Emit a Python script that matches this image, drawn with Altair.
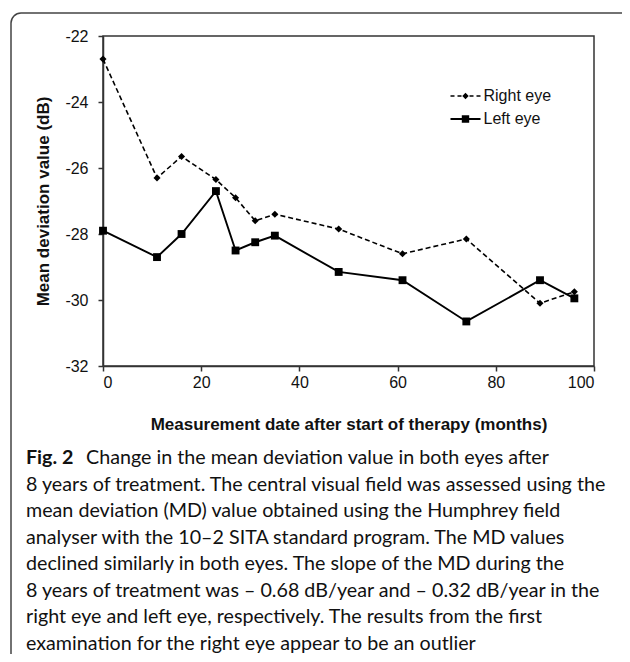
import altair as alt
import pandas as pd

# ---- data ----
months = [0, 11, 16, 23, 27, 31, 35, 48, 61, 74, 89, 96]
right_eye = [-22.7, -26.3, -25.65, -26.35, -26.9, -27.6, -27.4, -27.85, -28.6, -28.15, -30.1, -29.75]
left_eye = [-27.9, -28.7, -28.0, -26.7, -28.5, -28.25, -28.05, -29.15, -29.4, -30.65, -29.4, -29.95]
series = ["Right eye", "Left eye"]
x_ticks = [0, 20, 40, 60, 80, 100]
y_ticks = [-32, -30, -28, -26, -24, -22]
x_title = "Measurement date after start of therapy (months)"
y_title = "Mean deviation value (dB)"
caption_label = "Fig. 2"
caption_lines = [
    "Change in the mean deviation value in both eyes after",
    "8 years of treatment. The central visual field was assessed using the",
    "mean deviation (MD) value obtained using the Humphrey field",
    "analyser with the 10\u20132 SITA standard program. The MD values",
    "declined similarly in both eyes. The slope of the MD during the",
    "8 years of treatment was \u2013 0.68 dB/year and \u2013 0.32 dB/year in the",
    "right eye and left eye, respectively. The results from the first",
    "examination for the right eye appear to be an outlier",
]

df = pd.DataFrame(
    {
        "month": months * 2,
        "md": right_eye + left_eye,
        "eye": [series[0]] * len(months) + [series[1]] * len(months),
    }
)
one = pd.DataFrame({"k": [1]})

FONT = "Liberation Sans"
CAP_FONT = "Lato"
CAP_SIZE = 19.7
CAP_LH = 26.5
CAP_Y0 = 428

x_enc = alt.X(
    "month:Q",
    scale=alt.Scale(domain=[0, 100], nice=False),
    axis=alt.Axis(values=x_ticks, title=x_title, labelPadding=3, titlePadding=26),
)
y_enc = alt.Y(
    "md:Q",
    scale=alt.Scale(domain=[-32, -22], nice=False),
    axis=alt.Axis(values=y_ticks, title=y_title, labelPadding=10, titlePadding=12,
                  labelExpr="'' + datum.value"),
)

base = alt.Chart(df).encode(x=x_enc, y=y_enc)

line_r = base.transform_filter(alt.datum.eye == series[0]).mark_line(
    color="black", strokeWidth=1.6, strokeDash=[5, 3]
)
line_l = base.transform_filter(alt.datum.eye == series[1]).mark_line(
    color="black", strokeWidth=1.9
)
pts_r = base.transform_filter(alt.datum.eye == series[0]).mark_point(
    shape="diamond", filled=True, color="black", size=50, opacity=1
)
pts_l = base.transform_filter(alt.datum.eye == series[1]).mark_point(
    shape="square", filled=True, color="black", size=62, opacity=1
)

# legend glyphs: dashed line + diamond, solid line + square (filled outlines)
path_r = (
    "M-1.5,-0.075H-1.1V0.075H-1.5Z"
    "M-0.8,-0.075H-0.4V0.075H-0.8Z"
    "M0,-0.32L0.32,0L0,0.32L-0.32,0Z"
    "M0.4,-0.075H0.8V0.075H0.4Z"
    "M1.1,-0.075H1.5V0.075H1.1Z"
)
path_l = "M-1.5,-0.09H1.5V0.09H-1.5Z M-0.37,-0.37H0.37V0.37H-0.37Z"
legend_layer = base.transform_filter("false").mark_point(
    filled=True, color="black", opacity=1
).encode(
    shape=alt.Shape("eye:N", scale=alt.Scale(domain=series, range=[path_r, path_l]),
                    legend=alt.Legend(title=None)),
)

frame = alt.Chart(one).mark_rect(
    fill="transparent", stroke="#444", strokeWidth=1.5, cornerRadius=10
).encode(x=alt.value(-92), x2=alt.value(540), y=alt.value(-23), y2=alt.value(680))

cap_bold = alt.Chart(one).mark_text(
    text=caption_label, font=CAP_FONT, fontSize=CAP_SIZE, fontWeight="bold",
    align="left", baseline="alphabetic", color="#111"
).encode(x=alt.value(-77), y=alt.value(CAP_Y0))
cap_first = alt.Chart(one).mark_text(
    text=caption_lines[0], font=CAP_FONT, fontSize=CAP_SIZE,
    align="left", baseline="alphabetic", color="#111"
).encode(x=alt.value(-17), y=alt.value(CAP_Y0))
cap_rest = alt.Chart(one).mark_text(
    text="\n".join(caption_lines[1:]), lineBreak="\n", lineHeight=CAP_LH,
    font=CAP_FONT, fontSize=CAP_SIZE, align="left", baseline="alphabetic", color="#111"
).encode(x=alt.value(-77), y=alt.value(CAP_Y0 + CAP_LH))

chart = alt.layer(
    frame, line_r, line_l, pts_r, pts_l, legend_layer, cap_bold, cap_first, cap_rest
).properties(
    width=491,
    height=330,
    padding={"left": 95, "top": 28, "right": 28, "bottom": 288},
    autosize=alt.AutoSizeParams(type="none"),
).configure_view(
    stroke="#333", strokeWidth=1.5
).configure_axis(
    grid=False,
    domainColor="#333",
    domainWidth=1.5,
    tickColor="#333",
    tickWidth=1.5,
    tickSize=5,
    labelFont=FONT,
    labelFontSize=16,
    labelColor="#111",
    titleFont=FONT,
    titleFontSize=17,
    titleFontWeight="bold",
    titleColor="#111",
).configure_legend(
    orient="none",
    legendX=351.5,
    legendY=49,
    padding=0,
    symbolSize=400,
    rowPadding=4,
    labelOffset=7,
    labelFont=FONT,
    labelFontSize=16,
    labelColor="#111",
)

chart.save("out.html", embed_options={"renderer": "svg", "actions": False})
